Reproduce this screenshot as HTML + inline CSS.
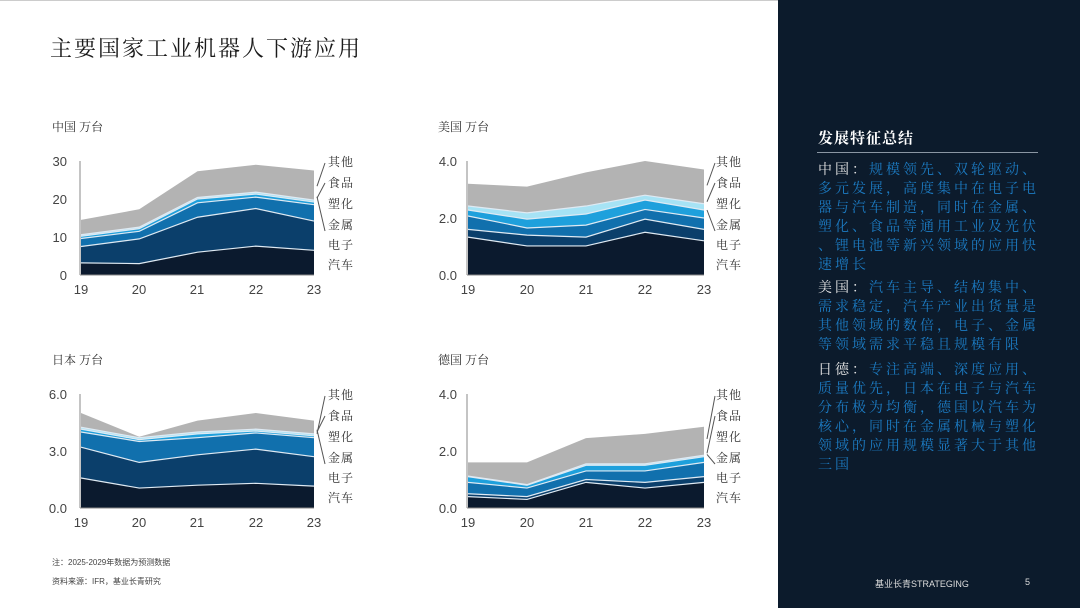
<!DOCTYPE html>
<html><head><meta charset="utf-8">
<style>
body{margin:0;width:1080px;height:608px;overflow:hidden;background:#fff;font-family:"Liberation Sans","Noto Sans CJK SC",sans-serif;position:relative}
.title{position:absolute;left:50px;top:32px;font-size:22px;color:#1a1a1a;font-family:"Liberation Serif","Noto Serif CJK SC",serif;letter-spacing:2px}
.side{position:absolute;left:778px;top:0;width:302px;height:608px;background:#0c1b2c}
.sh{position:absolute;left:818px;top:127px;font-size:15px;color:#fff;font-weight:bold;font-family:"Noto Serif CJK SC",serif;letter-spacing:1px}
.line{position:absolute;left:817px;top:152px;width:221px;height:1px;background:#8a96a3}
.p{position:absolute;left:818px;width:240px;font-size:14px;line-height:19px;color:#1c7cc4;font-family:"Noto Serif CJK SC",serif;letter-spacing:3px;white-space:nowrap}
.p b{color:#e8e8e8;font-weight:normal}
.foot{position:absolute;font-size:8px;color:#444}
</style></head><body>
<div class="title">主要国家工业机器人下游应用</div>
<svg width="778" height="608" style="position:absolute;left:0;top:0" font-family="Liberation Sans, Noto Sans CJK SC, sans-serif">
<line x1="0" y1="0.5" x2="778" y2="0.5" stroke="#ccc"/>
<g id="charts"></g>
<g font-size="12" fill="#333" font-family="Noto Serif CJK SC, serif">
<text x="52" y="131">中国 万台</text><text x="438" y="131">美国 万台</text>
<text x="52" y="364">日本 万台</text><text x="438" y="364">德国 万台</text>
</g>
<g font-size="13" fill="#444" text-anchor="end">
<text x="67" y="166">30</text><text x="67" y="204">20</text><text x="67" y="242">10</text><text x="67" y="280">0</text>
<text x="457" y="166">4.0</text><text x="457" y="223">2.0</text><text x="457" y="280">0.0</text>
<text x="67" y="399">6.0</text><text x="67" y="456">3.0</text><text x="67" y="513">0.0</text>
<text x="457" y="399">4.0</text><text x="457" y="456">2.0</text><text x="457" y="513">0.0</text>
</g>
<g font-size="13" fill="#444" text-anchor="middle">
<text x="81" y="294">19</text><text x="139" y="294">20</text><text x="197" y="294">21</text><text x="256" y="294">22</text><text x="314" y="294">23</text>
<text x="468" y="294">19</text><text x="527" y="294">20</text><text x="586" y="294">21</text><text x="645" y="294">22</text><text x="704" y="294">23</text>
<text x="81" y="527">19</text><text x="139" y="527">20</text><text x="197" y="527">21</text><text x="256" y="527">22</text><text x="314" y="527">23</text>
<text x="468" y="527">19</text><text x="527" y="527">20</text><text x="586" y="527">21</text><text x="645" y="527">22</text><text x="704" y="527">23</text>
</g>
<g font-size="12" fill="#333" font-family="Noto Serif CJK SC, serif" letter-spacing="1">
<g id="l1"><text x="328" y="166">其他</text><text x="328" y="187">食品</text><text x="328" y="208">塑化</text><text x="328" y="229">金属</text><text x="328" y="249">电子</text><text x="328" y="269">汽车</text></g>
<g transform="translate(388,0)"><text x="328" y="166">其他</text><text x="328" y="187">食品</text><text x="328" y="208">塑化</text><text x="328" y="229">金属</text><text x="328" y="249">电子</text><text x="328" y="269">汽车</text></g>
<g transform="translate(0,233)"><text x="328" y="166">其他</text><text x="328" y="187">食品</text><text x="328" y="208">塑化</text><text x="328" y="229">金属</text><text x="328" y="249">电子</text><text x="328" y="269">汽车</text></g>
<g transform="translate(388,233)"><text x="328" y="166">其他</text><text x="328" y="187">食品</text><text x="328" y="208">塑化</text><text x="328" y="229">金属</text><text x="328" y="249">电子</text><text x="328" y="269">汽车</text></g>
</g>
</svg>
<div class="foot" style="left:52px;top:557px">注：2025-2029年数据为预测数据</div>
<div class="foot" style="left:52px;top:576px">资料来源：IFR，基业长青研究</div>
<div class="side"></div>
<div class="sh">发展特征总结</div>
<div class="line"></div>
<div class="p" style="top:160px"><b>中国：</b>规模领先、双轮驱动、<br>多元发展，高度集中在电子电<br>器与汽车制造，同时在金属、<br>塑化、食品等通用工业及光伏<br>、锂电池等新兴领域的应用快<br>速增长</div>
<div class="p" style="top:278px"><b>美国：</b>汽车主导、结构集中、<br>需求稳定，汽车产业出货量是<br>其他领域的数倍，电子、金属<br>等领域需求平稳且规模有限</div>
<div class="p" style="top:360px"><b>日德：</b>专注高端、深度应用、<br>质量优先，日本在电子与汽车<br>分布极为均衡，德国以汽车为<br>核心，同时在金属机械与塑化<br>领域的应用规模显著大于其他<br>三国</div>
<div style="position:absolute;left:875px;top:577px;font-size:9px;color:#ddd">基业长青STRATEGING</div>
<div style="position:absolute;left:1025px;top:577px;font-size:9px;color:#ddd">5</div>
<script>
var cols=["#0b1a2e","#0b3f6b","#1170ad","#1ea0dc","#a6e3f5","#b3b3b3"];
var charts=[
{x0:81,x1:314,y0:275,y1:161,max:30,d:[[3.2,3.0,6,7.6,6.5],[7.5,9.5,15.2,17.5,14.2],[9.6,11.5,19,20.5,18.5],[10.2,12.2,20,21.3,19.2],[10.6,12.6,20.4,21.8,19.7],[14.5,17.3,27.3,29,27.5]]},
{x0:468,x1:704,y0:275,y1:161,max:4,d:[[1.33,1.02,1.02,1.5,1.2],[1.6,1.4,1.33,1.96,1.6],[2.07,1.65,1.75,2.3,2.0],[2.28,1.96,2.14,2.63,2.28],[2.42,2.18,2.42,2.8,2.5],[3.2,3.1,3.6,4.0,3.7]]},
{x0:81,x1:314,y0:508,y1:394,max:6,d:[[1.58,1.05,1.2,1.3,1.15],[3.2,2.4,2.8,3.1,2.7],[4.0,3.5,3.7,3.95,3.7],[4.15,3.6,3.9,4.05,3.8],[4.25,3.7,4.0,4.15,3.9],[5.0,3.75,4.6,5.0,4.6]]},
{x0:468,x1:704,y0:508,y1:394,max:4,d:[[0.4,0.3,0.9,0.7,0.9],[0.5,0.4,1.0,0.9,1.1],[0.9,0.7,1.3,1.3,1.6],[1.1,0.8,1.5,1.5,1.8],[1.12,0.82,1.55,1.55,1.85],[1.6,1.6,2.45,2.6,2.85]]}];
var s="";
charts.forEach(function(c){
 function X(i){return c.x0+(c.x1-c.x0)*i/4}
 function Y(v){return c.y0-(c.y0-c.y1)*v/c.max}
 for(var k=5;k>=0;k--){
  var p="M"+X(0)+","+c.y0;
  for(var i=0;i<5;i++)p+=" L"+X(i)+","+Y(c.d[k][i]);
  p+=" L"+X(4)+","+c.y0+"Z";
  s+='<path d="'+p+'" fill="'+cols[k]+'"/>';
 }
 for(var k=0;k<5;k++){
  var p="M"+X(0)+","+Y(c.d[k][0]);
  for(var i=1;i<5;i++)p+=" L"+X(i)+","+Y(c.d[k][i]);
  s+='<path d="'+p+'" fill="none" stroke="#dfeaf3" stroke-width="1.2"/>';
 }
 s+='<line x1="'+(c.x0-1)+'" y1="'+c.y1+'" x2="'+(c.x0-1)+'" y2="'+c.y0+'" stroke="#888"/>';
 s+='<line x1="'+(c.x0-1)+'" y1="'+c.y0+'" x2="'+c.x1+'" y2="'+c.y0+'" stroke="#888"/>';
 var ox=c.x1, lx=c.x1+11;
 s+='<path d="M'+(lx)+','+(c.y1+2)+' L'+(ox+3)+','+Y(c.d[5][4]*0.85)+'" stroke="#555" fill="none"/>';
 s+='<path d="M'+(lx)+','+(c.y1+22)+' L'+(ox+3)+','+(Y(c.d[4][4])-2)+'" stroke="#555" fill="none"/>';
 s+='<path d="M'+(lx)+','+(c.y1+70)+' L'+(ox+3)+','+(Y(c.d[2][4])-8)+'" stroke="#555" fill="none"/>';
});
document.getElementById("charts").innerHTML=s;
</script>
</body></html>
